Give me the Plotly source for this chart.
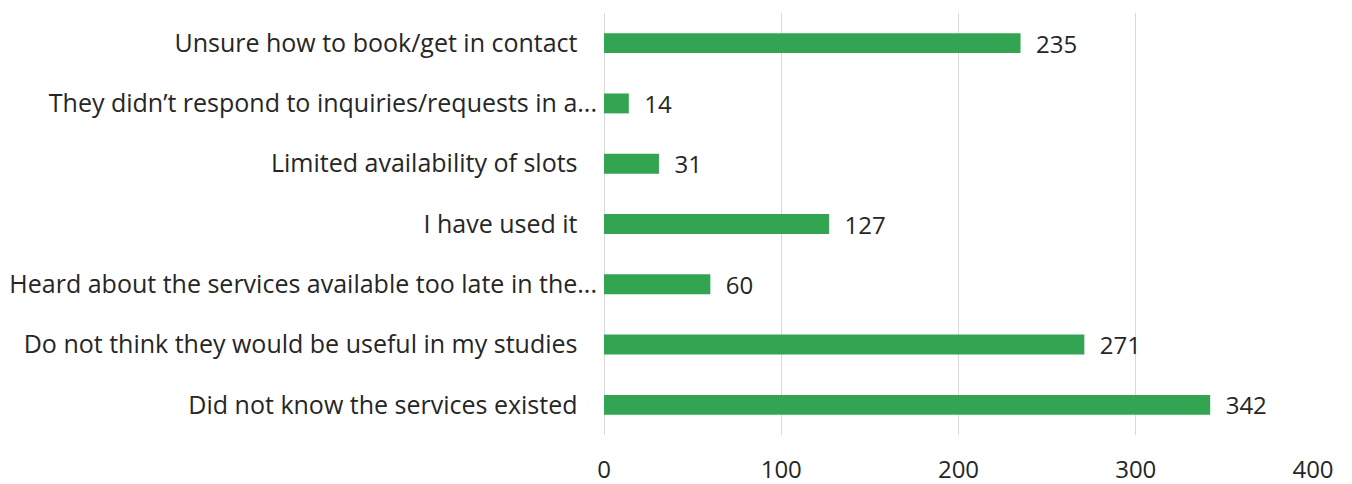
import plotly.graph_objects as go

# Reasons for not using the services (top to bottom)
reasons = [
    "Unsure how to book/get in contact",
    "They didn\u2019t respond to inquiries/requests in a...",
    "Limited availability of slots",
    "I have used it",
    "Heard about the services available too late in the...",
    "Do not think they would be useful in my studies",
    "Did not know the services existed",
]
counts = [235, 14, 31, 127, 60, 271, 342]
x_ticks = [0, 100, 200, 300, 400]

font_family = "Open Sans"
text_color = "#262626"
bar_color = "#33a552"
grid_color = "#d9d9d9"

# Shortened (ellipsized) labels sit closer to the axis than the full ones,
# so the full labels get a little trailing padding.
pad = "\u00a0" * 3
tick_text = [r if r.endswith("...") else r + pad for r in reasons]

fig = go.Figure(
    go.Bar(
        x=counts,
        y=reasons,
        orientation="h",
        marker=dict(color=bar_color, line=dict(width=0)),
        width=0.33,
        text=counts,
        texttemplate="  %{text}",
        textposition="outside",
        constraintext="none",
        textfont=dict(family=font_family, size=24, color=text_color),
        cliponaxis=False,
    )
)

fig.update_layout(
    width=1352,
    height=484,
    margin=dict(l=604, r=39, t=13, b=49),
    paper_bgcolor="white",
    plot_bgcolor="white",
    showlegend=False,
    font=dict(family=font_family, size=24, color=text_color),
    xaxis=dict(
        range=[0, 400],
        tickvals=x_ticks,
        showgrid=True,
        gridcolor=grid_color,
        gridwidth=1,
        zeroline=True,
        zerolinecolor=grid_color,
        zerolinewidth=1,
        showline=False,
        ticks="",
        automargin=False,
        ticklabelstandoff=18,
        tickfont=dict(family=font_family, size=24, color=text_color),
    ),
    yaxis=dict(
        autorange="reversed",
        tickmode="array",
        tickvals=reasons,
        ticktext=tick_text,
        showgrid=False,
        showline=False,
        ticks="",
        automargin=False,
        ticklabelstandoff=6,
        tickfont=dict(family=font_family, size=25, color=text_color),
    ),
)

fig.write_html("out.html")
